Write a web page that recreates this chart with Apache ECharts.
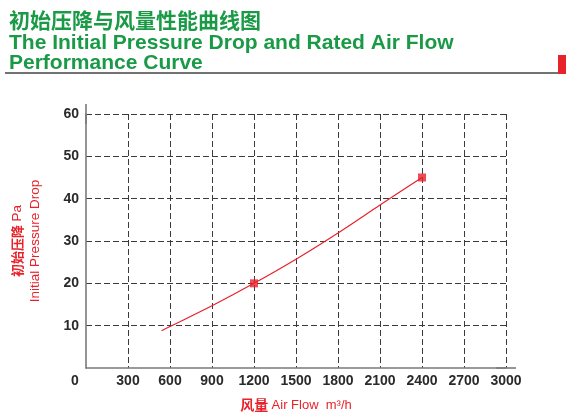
<!DOCTYPE html>
<html>
<head>
<meta charset="utf-8">
<script src="https://cdn.jsdelivr.net/npm/echarts@6/dist/echarts.min.js"></script>
<style>
  html, body { margin: 0; padding: 0; background: #fff; }
  #chart { width: 570px; height: 418px; }
</style>
</head>
<body>
<div id="chart"></div>
<script>
// curve
var airFlow = [540, 600, 900, 1200, 1500, 1800, 2100, 2400];
var pressureDrop = [8.8, 9.8, 14.7, 20, 25.7, 31.9, 38.5, 45];
// the two square markers
var markFlow = [1200, 2400];
var markDrop = [20, 45];

var titleCn = '初始压降与风量性能曲线图';
var titleEn1 = 'The Initial Pressure Drop and Rated Air Flow';
var titleEn2 = 'Performance Curve';

var RED = '#e8222b';
var GREEN = '#1a9a46';

function pairs(xs, ys) {
  return xs.map(function (x, i) { return [x, ys[i]]; });
}

var chart = echarts.init(document.getElementById('chart'));

var gridLine = { show: true, showMinLine: false, lineStyle: { color: '#3a3a3a', width: 1, type: [6, 3] } };
var axisLine = {
  show: true,
  symbol: ['none', 'rect'],
  symbolSize: [1.6, 20],
  lineStyle: { color: '#7a7a7a', width: 1.6 }
};
var tickFont = { color: '#2a2a2a', fontSize: 14, fontWeight: 'bold', fontFamily: 'Liberation Sans' };

chart.setOption({
  backgroundColor: '#fff',
  animation: false,
  title: [
    { text: titleCn, left: 4, top: 5,
      textStyle: { color: GREEN, fontSize: 21, fontWeight: 'bold', fontFamily: 'Noto Sans CJK SC' } },
    { text: titleEn1, left: 4, top: 28,
      textStyle: { color: GREEN, fontSize: 21, fontWeight: 'bold', fontFamily: 'Liberation Sans' } },
    { text: titleEn2, left: 4, top: 48,
      textStyle: { color: GREEN, fontSize: 21, fontWeight: 'bold', fontFamily: 'Liberation Sans' } }
  ],
  graphic: [
    { type: 'line', shape: { x1: 5, y1: 73, x2: 558, y2: 73 },
      style: { stroke: '#444', lineWidth: 1.5 } },
    { type: 'rect', shape: { x: 558, y: 55, width: 8, height: 19 },
      style: { fill: RED } }
  ],
  grid: { left: 82, top: 114, right: 64, bottom: 50 },
  xAxis: {
    type: 'value', min: 0, max: 3000, interval: 300,
    axisLine: axisLine,
    axisTick: { show: false },
    splitLine: gridLine,
    axisLabel: Object.assign({}, tickFont, {
      margin: 6,
      formatter: function (v) { return v === 0 ? '{z|0}' : String(v); },
      rich: { z: { color: '#2a2a2a', fontSize: 14, fontWeight: 'bold', fontFamily: 'Liberation Sans', padding: [0, 22, 0, 0] } }
    }),
    name: '{c|风量} {e|Air Flow  m³/h}',
    nameLocation: 'middle',
    nameGap: 30,
    nameTextStyle: {
      rich: {
        c: { color: RED, fontSize: 14, fontWeight: 'bold', fontFamily: 'Noto Sans CJK SC' },
        e: { color: RED, fontSize: 13, fontFamily: 'Liberation Sans' }
      }
    }
  },
  yAxis: {
    type: 'value', min: 0, max: 60, interval: 10,
    axisLine: axisLine,
    axisTick: { show: false },
    splitLine: gridLine,
    axisLabel: Object.assign({}, tickFont, { margin: 7, showMinLabel: false }),
    name: '{c|初始压降} {e|Pa}\n{e|Initial Pressure Drop}',
    nameLocation: 'middle',
    nameGap: 42,
    nameTextStyle: {
      lineHeight: 18,
      rich: {
        c: { color: RED, fontSize: 13, fontWeight: 'bold', fontFamily: 'Noto Sans CJK SC', lineHeight: 18 },
        e: { color: RED, fontSize: 13.5, fontFamily: 'Liberation Sans', lineHeight: 18 }
      }
    }
  },
  series: [
    {
      type: 'line',
      data: pairs(airFlow, pressureDrop),
      smooth: 0.3,
      showSymbol: false,
      symbol: 'none',
      lineStyle: { color: RED, width: 1.2 },
      z: 3
    },
    {
      type: 'scatter',
      data: pairs(markFlow, markDrop),
      symbol: 'rect',
      symbolSize: 8,
      itemStyle: { color: RED },
      z: 4
    }
  ]
});
</script>
</body>
</html>
